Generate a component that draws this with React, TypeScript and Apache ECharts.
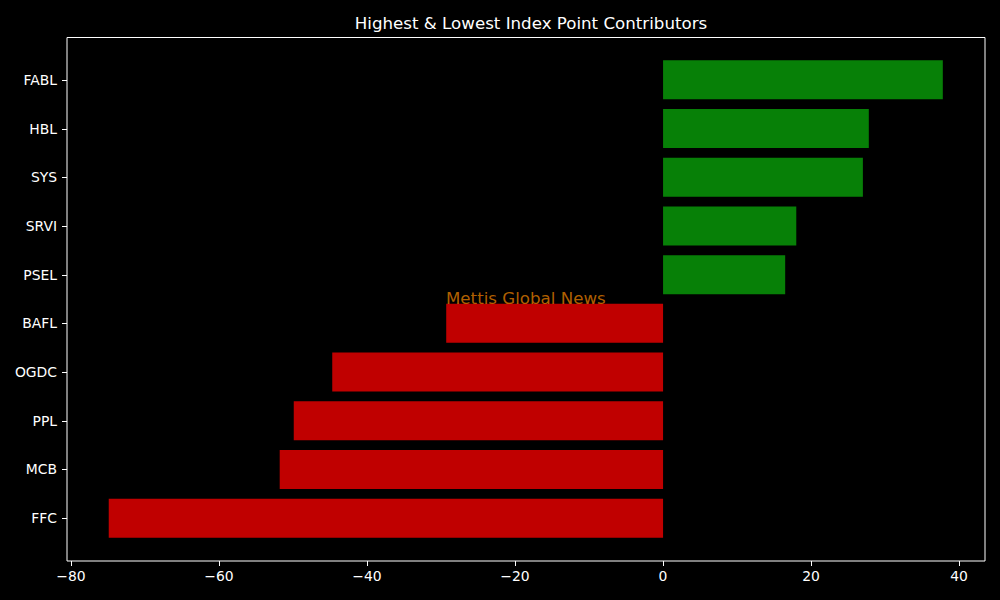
import React, { useEffect, useRef } from "react";
import * as echarts from "echarts";

const categories = ["FABL", "HBL", "SYS", "SRVI", "PSEL", "BAFL", "OGDC", "PPL", "MCB", "FFC"];
const values = [37.8, 27.8, 27.0, 18.0, 16.5, -29.3, -44.7, -49.9, -51.8, -74.9];
const xTicks = [-80, -60, -40, -20, 0, 20, 40];
const xRange = [-80.54, 43.5];
const titleText = "Highest & Lowest Index Point Contributors";
const watermark = "Mettis Global News";

const GREEN = "#078007";
const RED = "#c00000";
const FONT = "DejaVu Sans";

export default function App() {
  const ref = useRef<HTMLDivElement>(null);
  useEffect(() => {
    if (!ref.current) return;
    const chart = echarts.init(ref.current, null, { renderer: "svg" });
    const baseGraphic: any[] = [
      {
        id: "frame",
        type: "rect",
        shape: { x: 67, y: 37.5, width: 918, height: 523.5 },
        style: { fill: "none", stroke: "#ffffff", lineWidth: 1 },
        silent: true,
        z: 50,
      },
      {
        id: "wm",
        type: "text",
        x: 446,
        y: 298,
        z: 100,
        style: {
          text: watermark,
          fill: "rgba(255,140,0,0.7)",
          font: `16.67px ${FONT}`,
          textAlign: "left",
          textVerticalAlign: "middle",
        },
      },
    ];
    chart.setOption({
      animation: false,
      backgroundColor: "#000000",
      title: {
        text: titleText,
        left: 526,
        top: 10,
        textAlign: "center",
        textStyle: { color: "#ffffff", fontFamily: FONT, fontSize: 16.67, fontWeight: "normal" },
      },
      grid: [
        { left: 67, right: 15, top: 55.5, bottom: 57.5, containLabel: false },
        { left: 71, right: 41, top: 37.5, bottom: 39, containLabel: false },
      ],
      xAxis: [
        {
          type: "value",
          gridIndex: 0,
          min: xRange[0],
          max: xRange[1],
          show: false,
        },
        {
          type: "value",
          gridIndex: 1,
          min: xTicks[0],
          max: xTicks[xTicks.length - 1],
          interval: 20,
          axisLine: { show: false, onZero: false },
          axisTick: { show: true, length: 5, lineStyle: { color: "#ffffff", width: 1 } },
          splitLine: { show: false },
          axisLabel: {
            color: "#ffffff",
            fontFamily: FONT,
            fontSize: 13.9,
            margin: 8,
            formatter: (v: number) => String(v).replace("-", "\u2212"),
          },
        },
      ],
      yAxis: [
        {
          type: "category",
          gridIndex: 0,
          data: categories,
          inverse: true,
          axisLine: { show: false, onZero: false },
          axisTick: { show: false },
          axisLabel: { color: "#ffffff", fontFamily: FONT, fontSize: 13.9, margin: 10 },
          splitLine: { show: false },
        },
        {
          type: "value",
          gridIndex: 1,
          show: false,
        },
      ],
      series: [
        {
          type: "bar",
          xAxisIndex: 0,
          yAxisIndex: 0,
          barWidth: "80%",
          data: values.map((v) => ({ value: v, itemStyle: { color: v >= 0 ? GREEN : RED } })),
        },
      ],
      graphic: baseGraphic,
    });
    const tickGraphic = categories.map((c, i) => {
      const p = chart.convertToPixel({ xAxisIndex: 0, yAxisIndex: 0 }, [xRange[0], c]) as number[];
      const y = Math.round(p[1]) + 0.5;
      return {
        id: "ytick" + i,
        type: "line",
        z: 100,
        silent: true,
        shape: { x1: p[0] - 5, y1: y, x2: p[0], y2: y },
        style: { stroke: "#ffffff", lineWidth: 1 },
      };
    });
    chart.setOption({ graphic: [...baseGraphic, ...tickGraphic] });
    return () => chart.dispose();
  }, []);
  return <div ref={ref} style={{ position: "fixed", left: 0, top: 0, width: 1000, height: 600 }} />;
}
